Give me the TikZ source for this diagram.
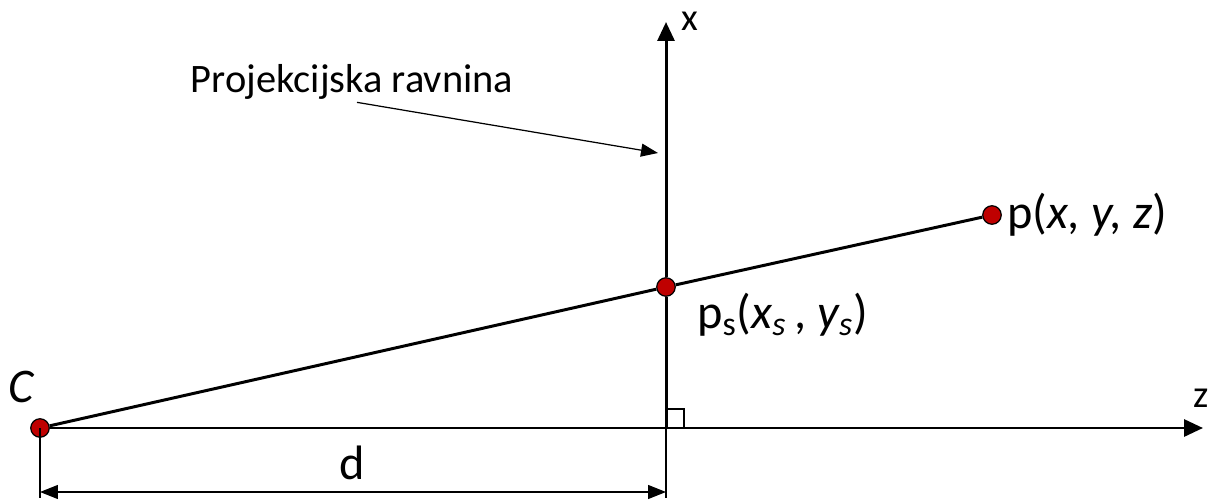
\documentclass[tikz,border=0pt]{standalone}
\usepackage{fontspec}
\setmainfont{Carlito}
\usetikzlibrary{arrows.meta, positioning}

\begin{document}
\begin{tikzpicture}[x=0.02cm, y=-0.02cm,
dot/.style={circle, draw, fill=red!75!black, inner sep=0pt, minimum size=0.37cm, line width=0.7pt},
axis/.style={-{Triangle[length=0.38cm, width=0.34cm]}, line width=1.7pt},
ray/.style={line width=1.7pt},
guide/.style={line width=0.6pt},
dim/.style={{Triangle[length=0.36cm, width=0.28cm]}-{Triangle[length=0.36cm, width=0.28cm]}, line width=0.7pt},
pointer/.style={-{Triangle[length=0.34cm, width=0.26cm]}, line width=0.7pt},
lbl/.style={inner sep=0pt, font=\fontsize{27.5}{32}\selectfont},
small/.style={inner sep=0pt, font=\fontsize{22}{26}\selectfont}]
    \useasboundingbox (0,0) rectangle (1212,500);

    \node[dot] (C) at (40,428) {};
    \node[dot] (ps) at (666,287) {};
    \node[dot] (p) at (992,215) {};
    \coordinate (O) at (666,428);
    \coordinate (zend) at (1203,428);
    \coordinate (xend) at (666,22);
    \coordinate (dl) at (40,498);
    \coordinate (dr) at (666,498);
    \coordinate (da) at (40,492);
    \coordinate (db) at (666,492);
    \coordinate (hit) at (658,153);

    % axes
    \draw[axis] (C) -- (zend);
    \draw[ray] (O) -- (ps);
    \draw[axis] (ps) -- (xend);
    \node[small] (xlbl) at (690,21) {x};
    \node[small] (zlbl) at (1201,398) {z};

    % projection ray
    \draw[ray] (C) -- (ps);
    \draw[ray] (ps) -- (p);
    \draw[line width=1.1pt] (666,409) rectangle (684,428);

    % distance d
    \draw[guide] (C.center) -- (dl);
    \draw[guide] (O) -- (dr);
    \draw[dim] (da) -- (db);
    \node[lbl] (d) at (352,463) {d};

    \node[lbl] (Clbl) at (22,387) {\textit{C}};
    \node[lbl, right=0.3cm of p.center] (plbl) {p(\textit{x, y, z})};
    \node[lbl, anchor=west] (pslbl) at (697,315) {p\textsubscript{s}(\textit{x\textsubscript{s}}\,, \textit{y\textsubscript{s}})};

    \node[font=\fontsize{23}{27}\selectfont, inner sep=0pt] (plane) at (352,82) {Projekcijska ravnina};
    \draw[pointer] ([xshift=0.1cm, yshift=-0.05cm]plane.south) -- (hit);
\end{tikzpicture}
\end{document}
